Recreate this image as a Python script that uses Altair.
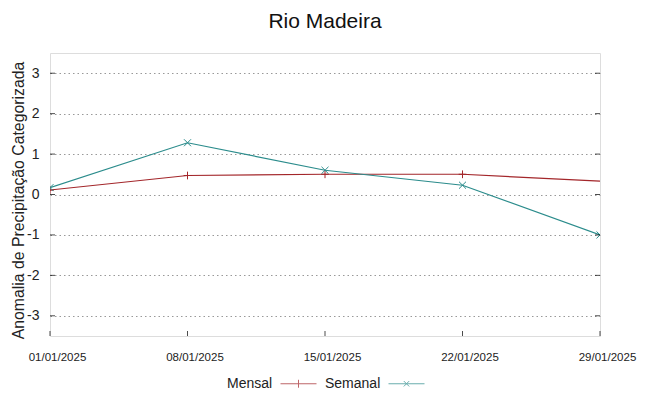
import altair as alt
import pandas as pd

datas = ["2025-01-01", "2025-01-08", "2025-01-15", "2025-01-22", "2025-01-29"]
mensal = [0.11, 0.47, 0.50, 0.50, 0.33]
semanal = [0.17, 1.28, 0.60, 0.23, -1.00]
mensal_marcador = [True, True, True, True, False]
semanal_marcador = [True, True, True, True, True]
series = ["Mensal", "Semanal"]
cores = ["#a3262a", "#2b8c8c"]
y_ticks = [-3, -2, -1, 0, 1, 2, 3]

rows = []
for d, v, m in zip(datas, mensal, mensal_marcador):
    rows.append({"data": d, "valor": v, "serie": "Mensal", "marcador": m})
for d, v, m in zip(datas, semanal, semanal_marcador):
    rows.append({"data": d, "valor": v, "serie": "Semanal", "marcador": m})
df = pd.DataFrame(rows)

FONT = "Liberation Sans"
W, H = 550, 283

x_enc = alt.X(
    "data:T",
    scale=alt.Scale(domain=["2025-01-01", "2025-01-29"]),
    axis=alt.Axis(
        values=datas,
        format="%d/%m/%Y",
        formatType="time",
        title=None,
        grid=False,
        ticks=False,
        domain=False,
        labelFontSize=11.5,
        labelFont=FONT,
        labelColor="#222",
        labelPadding=15,
        labelOffset=7,
        labelOverlap=False,
        labelFlush=False,
    ),
)
y_enc = alt.Y(
    "valor:Q",
    scale=alt.Scale(domain=[-3.5, 3.5], nice=False),
    axis=alt.Axis(
        values=y_ticks,
        labelExpr="toString(datum.value)",
        title="Anomalia de Precipitação Categorizada",
        titleFont=FONT,
        titleFontSize=15.8,
        titleFontWeight="normal",
        titleColor="#222",
        titlePadding=0,
        titleY=147,
        labelFont=FONT,
        labelFontSize=14,
        labelColor="#222",
        labelPadding=11,
        grid=True,
        gridDash=[1.5, 3],
        gridColor="#999999",
        gridWidth=1,
        ticks=False,
        domain=False,
    ),
)
color_scale = alt.Scale(domain=series, range=cores)

lines = alt.Chart(df).mark_line(strokeWidth=1.15, clip=True).encode(
    x=x_enc,
    y=y_enc,
    color=alt.Color("serie:N", scale=color_scale, legend=None),
)

points = (
    alt.Chart(df)
    .transform_filter("datum.marcador")
    .mark_point(filled=False, strokeWidth=1, size=60, clip=True, opacity=1)
    .encode(
        x="data:T",
        y="valor:Q",
        color=alt.Color("serie:N", scale=color_scale, legend=None),
        shape=alt.Shape(
            "serie:N",
            scale=alt.Scale(
                domain=series,
                range=["M-1,0L1,0M0,-1L0,1", "M-0.9,-0.9L0.9,0.9M-0.9,0.9L0.9,-0.9"],
            ),
            legend=None,
        ),
    )
)

# legend in gnuplot style: "label  sample" pairs. Each legend entry shows the
# sample of one series followed by the name of the next one.
legend_domain = [""] + series
leg = alt.Legend(
    title=None,
    orient="none",
    legendX=132,
    legendY=312,
    direction="horizontal",
    labelFont=FONT,
    labelFontSize=14,
    labelColor="#222",
    labelAlign="left",
    labelOffset=8,
    labelExpr="datum.value === '' ? 'Mensal' : (datum.value === 'Mensal' ? 'Semanal' : '')",
    symbolSize=1296,
    symbolStrokeWidth=1,
    columnPadding=5,
)

legend_layer = (
    alt.Chart(df)
    .transform_filter("false")
    .mark_point(filled=False, strokeWidth=1)
    .encode(
        x="data:T",
        y="valor:Q",
        color=alt.Color(
            "serie:N",
            scale=alt.Scale(domain=legend_domain, range=["#ffffff"] + cores),
            legend=leg,
        ),
        shape=alt.Shape(
            "serie:N",
            scale=alt.Scale(
                domain=legend_domain,
                range=[
                    "M0,0",
                    "M-1,0L1,0M0,-0.22L0,0.22",
                    "M-1,0L1,0M-0.15,-0.15L0.15,0.15M-0.15,0.15L0.15,-0.15",
                ],
            ),
            legend=leg,
        ),
    )
)

tick_df = pd.DataFrame({"v": y_ticks})
left_ticks = alt.Chart(tick_df).mark_tick(color="#000", thickness=1, size=5).encode(
    y=alt.Y("v:Q", scale=alt.Scale(domain=[-3.5, 3.5], nice=False)), x=alt.value(2.5)
)
right_ticks = alt.Chart(tick_df).mark_tick(color="#000", thickness=1, size=5).encode(
    y=alt.Y("v:Q", scale=alt.Scale(domain=[-3.5, 3.5], nice=False)), x=alt.value(W - 2.5)
)
xt_df = pd.DataFrame({"d": datas})
bottom_ticks = alt.Chart(xt_df).mark_tick(color="#000", thickness=1, size=5).encode(
    x=alt.X("d:T"), y=alt.value(H - 2.5)
)

chart = (
    alt.layer(lines, points, legend_layer, left_ticks, right_ticks, bottom_ticks)
    .resolve_scale(shape="independent", color="independent")
    .properties(
        width=W,
        height=H,
        title=alt.TitleParams(
            "Rio Madeira", font=FONT, fontSize=21, fontWeight="normal", color="#111", offset=21
        ),
        autosize=alt.AutoSizeParams(type="none"),
        padding={"left": 42, "top": 45, "right": 40, "bottom": 52},
    )
    .configure_view(stroke="#555", strokeWidth=1.5)
    .configure(background="white")
)

chart.save("out.html", embed_options={"renderer": "svg", "actions": False})
